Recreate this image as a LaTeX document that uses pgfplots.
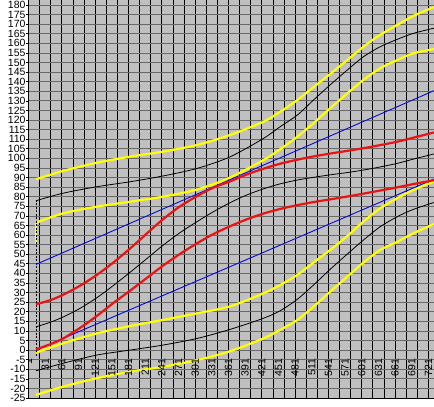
\documentclass[border=0pt]{standalone}
\usepackage{pgfplots}
\pgfplotsset{compat=1.18}
\usepackage{fontspec}
\setmainfont{Liberation Sans}
\definecolor{bg}{RGB}{192,192,192}
\definecolor{yel}{RGB}{255,255,0}
\definecolor{red1}{RGB}{235,20,20}
\definecolor{blu}{RGB}{10,10,215}
\definecolor{hgrid}{RGB}{105,105,105}
\begin{document}
\begin{tikzpicture}[x=1pt,y=1pt]
\useasboundingbox (-28.5,-9) rectangle (405.5,398);
\begin{axis}[
  at={(0,0)}, anchor=south west,
  scale only axis, width=405.5pt, height=398pt,
  xmin=1, xmax=731, ymin=-25, ymax=182.6,
  axis background/.style={fill=bg},
  xtick={1,21,...,721}, xticklabels={},
  ytick={-25,-20,...,180},
  xmajorgrids, ymajorgrids,
  major x grid style={black, line width=0.8pt},
  major y grid style={hgrid, line width=0.7pt},
  xtick style={draw=none},
  ytick style={black, line width=0.6pt},
  ytick align=outside, major tick length=2pt,
  axis x line*=bottom, axis y line*=left,
  axis line style={black, line width=0.6pt, -},
  /pgf/number format/assume math mode=true,
  yticklabel style={font=\fontsize{10.5}{12}\selectfont, inner sep=0.8pt},
]
% yellow
\addplot[yel, line width=2.2pt, smooth] coordinates {(14.5,89.1)(63,93.4)(124,97.7)(184,100.9)(243,103.5)(305,107)(364,112.2)(424,119.1)(454,124.3)(485,130.4)(514,137.1)(544,144)(575,151.3)(604,158.2)(634,164.4)(665,169.6)(694,174.3)(731,178.9)};
\addplot[yel, line width=2.2pt] coordinates {(14.5,55.3)(14.5,66.4)};
\addplot[yel, line width=2.2pt, smooth] coordinates {(14.5,66.4)(63,71.3)(124,74.8)(184,77.4)(243,80.0)(305,83.8)(364,90)(424,99.1)(454,104.7)(485,111.3)(514,118.3)(544,126.1)(575,133.9)(604,140.9)(634,147.0)(665,151.3)(694,154.8)(731,157.0)};
\addplot[yel, line width=2.2pt, smooth] coordinates {(14.5,-1.4)(63,3.5)(124,8.7)(184,12.5)(243,15.7)(305,19.2)(364,22.8)(424,29.6)(454,33.9)(485,39.2)(514,45.6)(544,52.2)(575,59.5)(604,67.0)(634,73.9)(665,79.2)(694,83.5)(731,87.9)};
\addplot[yel, line width=2.2pt, smooth] coordinates {(14.5,-23.4)(63,-19.1)(124,-14.7)(184,-11.3)(243,-8.7)(305,-5.2)(364,-0.6)(424,6.1)(454,10.5)(485,15.7)(514,22.6)(544,30.4)(575,38.3)(604,45.6)(634,52.2)(665,56.5)(694,60.9)(731,65.7)};
% black
\addplot[black, line width=0.8pt, dash pattern=on 2pt off 1.5pt] coordinates {(14.5,-3)(14.5,77.9)};
\addplot[black, line width=0.8pt, smooth] coordinates {(14.5,77.9)(63,81.8)(124,85.2)(184,87.8)(243,90.8)(305,94.8)(364,100.8)(424,110.4)(454,116.5)(485,122.6)(514,130.4)(544,138.3)(575,146.1)(604,153.0)(634,158.2)(665,162.1)(694,165.2)(731,167.9)};
\addplot[black, line width=0.8pt, smooth] coordinates {(14.5,12.1)(40,14.5)(63,17.2)(94,21.8)(124,27.3)(153,33.5)(184,40.6)(214,47.7)(243,54.6)(274,61.3)(305,67.1)(333,72.0)(364,76.9)(394,80.9)(424,84.1)(454,86.7)(485,88.7)(514,90.1)(544,91.4)(575,92.6)(604,93.9)(634,95.5)(665,97.4)(694,99.6)(731,102.3)};
\addplot[black, line width=0.8pt, smooth] coordinates {(14.5,-10.8)(63,-6.9)(124,-2.6)(184,0.0)(243,2.6)(305,6.1)(364,10.8)(424,16.6)(454,20.5)(485,26.5)(514,33.9)(544,42.1)(575,50.1)(604,57.4)(634,64.3)(665,69.6)(694,73.4)(731,77.0)};
% blue
\addplot[blu, line width=0.9pt] coordinates {(14.5,44.7)(731,135.3)};
\addplot[blu, line width=0.9pt] coordinates {(14.5,0.0)(731,89.2)};
% red
\addplot[red1, line width=2.2pt, smooth] coordinates {(14.5,23.9)(40,26.0)(63,28.8)(94,33.6)(124,39.2)(153,45.5)(184,53.0)(214,60.8)(243,68.2)(274,75.0)(305,80.4)(333,84.6)(364,88.0)(394,91.6)(424,94.6)(454,97.2)(485,99.3)(514,101.0)(544,102.5)(575,103.9)(604,105.3)(634,106.9)(665,108.7)(694,110.8)(731,113.5)};
\addplot[red1, line width=2.2pt, smooth] coordinates {(14.5,0.4)(40,3.0)(63,6.0)(94,11.6)(124,17.8)(153,24.4)(184,31.0)(214,37.6)(243,44.0)(274,50.2)(305,55.8)(333,60.4)(364,64.6)(394,68.2)(424,71.2)(454,73.6)(485,75.6)(514,77.2)(544,78.6)(575,80.1)(604,81.6)(634,83.2)(665,84.9)(694,86.6)(731,88.6)};
% x labels
\pgfplotsinvokeforeach{1,31,61,91,121,151,181,211,241,271,301,331,361,391,421,451,481,511,541,571,601,631,661,691,721}{
  \node[rotate=90, anchor=east, inner sep=0pt, font=\fontsize{10.5}{12}\selectfont] at (axis cs:#1,-4.5) {#1};
}
\end{axis}
\end{tikzpicture}
\end{document}
